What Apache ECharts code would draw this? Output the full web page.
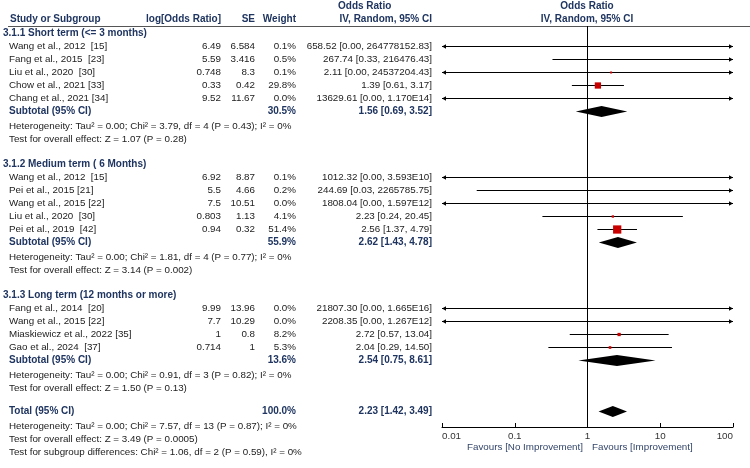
<!DOCTYPE html>
<html>
<head>
<meta charset="utf-8">
<style>
  html, body { margin: 0; padding: 0; background: #fff; }
  #forest { width: 750px; height: 468px; }
</style>
<script src="https://cdn.jsdelivr.net/npm/echarts@6/dist/echarts.min.js"></script>
</head>
<body>
<div id="forest"></div>
<script>
var FONT = 'Arial, "Liberation Sans", sans-serif';
var NAVY = '#1f3560';
var INK = '#222';
var X_MIN = 0.01, X_MAX = 100;

// subgroups
var groupTitles = ['3.1.1 Short term (<= 3 months)', '3.1.2 Medium term ( 6 Months)', '3.1.3 Long term (12 months or more)'];
var groupStartRow = [0, 10, 20];

// studies
var studyNames = [
    'Wang et al., 2012  [15]', 'Fang et al., 2015  [23]', 'Liu et al., 2020  [30]', 'Chow et al., 2021 [33]', 'Chang et al., 2021 [34]',
    'Wang et al., 2012  [15]', 'Pei et al., 2015 [21]', 'Wang et al., 2015 [22]', 'Liu et al., 2020  [30]', 'Pei et al., 2019  [42]',
    'Fang et al., 2014  [20]', 'Wang et al., 2015 [22]', 'Miaskiewicz et al., 2022 [35]', 'Gao et al., 2024  [37]'
];
var studyGroup = [0, 0, 0, 0, 0, 1, 1, 1, 1, 1, 2, 2, 2, 2];
var logOr = [6.49, 5.59, 0.748, 0.33, 9.52, 6.92, 5.5, 7.5, 0.803, 0.94, 9.99, 7.7, 1, 0.714];
var seVals = [6.584, 3.416, 8.3, 0.42, 11.67, 8.87, 4.66, 10.51, 1.13, 0.32, 13.96, 10.29, 0.8, 1];
var weightPct = [0.1, 0.5, 0.1, 29.8, 0.0, 0.1, 0.2, 0.0, 4.1, 51.4, 0.0, 0.0, 8.2, 5.3];
var oddsRatio = [658.52, 267.74, 2.11, 1.39, 13629.61, 1012.32, 244.69, 1808.04, 2.23, 2.56, 21807.30, 2208.35, 2.72, 2.04];
var ciLower = [0.00, 0.33, 0.00, 0.61, 0.00, 0.00, 0.03, 0.00, 0.24, 1.37, 0.00, 0.00, 0.57, 0.29];
var ciUpper = [264778152.83, 216476.43, 24537204.43, 3.17, 1.170e14, 3.593e10, 2265785.75, 1.597e12, 20.45, 4.79, 1.665e16, 1.267e12, 13.04, 14.50];
var ciUpperText = ['264778152.83', '216476.43', '24537204.43', '3.17', '1.170E14', '3.593E10', '2265785.75', '1.597E12', '20.45', '4.79', '1.665E16', '1.267E12', '13.04', '14.50'];

// subtotals
var subWeight = [30.5, 55.9, 13.6];
var subOr = [1.56, 2.62, 2.54];
var subLow = [0.69, 1.43, 0.75];
var subHigh = [3.52, 4.78, 8.61];
var hetText = [
    'Heterogeneity: Tau\u00b2 = 0.00; Chi\u00b2 = 3.79, df = 4 (P = 0.43); I\u00b2 = 0%',
    'Heterogeneity: Tau\u00b2 = 0.00; Chi\u00b2 = 1.81, df = 4 (P = 0.77); I\u00b2 = 0%',
    'Heterogeneity: Tau\u00b2 = 0.00; Chi\u00b2 = 0.91, df = 3 (P = 0.82); I\u00b2 = 0%'
];
var effectText = [
    'Test for overall effect: Z = 1.07 (P = 0.28)',
    'Test for overall effect: Z = 3.14 (P = 0.002)',
    'Test for overall effect: Z = 1.50 (P = 0.13)'
];

// overall
var totalWeight = 100.0;
var totalOr = 2.23, totalLow = 1.42, totalHigh = 3.49;
var totalNotes = [
    'Heterogeneity: Tau\u00b2 = 0.00; Chi\u00b2 = 7.57, df = 13 (P = 0.87); I\u00b2 = 0%',
    'Test for overall effect: Z = 3.49 (P = 0.0005)',
    'Test for subgroup differences: Chi\u00b2 = 1.06, df = 2 (P = 0.59), I\u00b2 = 0%'
];
var xTicks = [0.01, 0.1, 1, 10, 100];

// ---- rows ----
var studyRow = [];
var groupCount = [0, 0, 0];
studyGroup.forEach(function (g) {
    groupCount[g]++;
    studyRow.push(groupStartRow[g] + groupCount[g]);
});
var subRow = groupStartRow.map(function (s, g) { return s + groupCount[g] + 1; });
var totalRow = 28.9;

function fmt2(v) { return v.toFixed(2); }
function cell(text, x, align, bold, color) {
    return { text: text, x: x, align: align || 'left', bold: !!bold, color: color || INK };
}

var COL_NAME = 9, COL_LOG = 221, COL_SE = 255, COL_W = 296, COL_CI = 432;
var tableRows = [];
tableRows.push({ row: -2.06, cells: [cell('Odds Ratio', 338, 'left', true, NAVY), cell('Odds Ratio', 587, 'center', true, NAVY)] });
tableRows.push({ row: -1.07, cells: [
    cell('Study or Subgroup', 10, 'left', true, NAVY), cell('log[Odds Ratio]', COL_LOG, 'right', true, NAVY),
    cell('SE', COL_SE, 'right', true, NAVY), cell('Weight', COL_W, 'right', true, NAVY),
    cell('IV, Random, 95% CI', COL_CI, 'right', true, NAVY), cell('IV, Random, 95% CI', 587, 'center', true, NAVY)
] });
groupTitles.forEach(function (t, g) {
    tableRows.push({ row: groupStartRow[g], cells: [cell(t, 3, 'left', true, NAVY)] });
    tableRows.push({ row: subRow[g], cells: [
        cell('Subtotal (95% CI)', COL_NAME, 'left', true, NAVY),
        cell(subWeight[g].toFixed(1) + '%', COL_W, 'right', true, NAVY),
        cell(fmt2(subOr[g]) + ' [' + fmt2(subLow[g]) + ', ' + fmt2(subHigh[g]) + ']', COL_CI, 'right', true, NAVY)
    ] });
    tableRows.push({ row: subRow[g] + 1.1, cells: [cell(hetText[g], COL_NAME)] });
    tableRows.push({ row: subRow[g] + 2.1, cells: [cell(effectText[g], COL_NAME)] });
});
studyNames.forEach(function (n, i) {
    tableRows.push({ row: studyRow[i], cells: [
        cell(n, COL_NAME), cell(String(logOr[i]), COL_LOG, 'right'), cell(String(seVals[i]), COL_SE, 'right'),
        cell(weightPct[i].toFixed(1) + '%', COL_W, 'right'),
        cell(fmt2(oddsRatio[i]) + ' [' + fmt2(ciLower[i]) + ', ' + ciUpperText[i] + ']', COL_CI, 'right')
    ] });
});
tableRows.push({ row: totalRow, cells: [
    cell('Total (95% CI)', COL_NAME, 'left', true, NAVY),
    cell(totalWeight.toFixed(1) + '%', COL_W, 'right', true, NAVY),
    cell(fmt2(totalOr) + ' [' + fmt2(totalLow) + ', ' + fmt2(totalHigh) + ']', COL_CI, 'right', true, NAVY)
] });
totalNotes.forEach(function (t, k) {
    tableRows.push({ row: 30 + k, cells: [cell(t, COL_NAME)] });
});
tableRows.push({ row: 31.6, cells: [
    cell('Favours [No Improvement]', 583, 'right', false, '#34466a'),
    cell('Favours [Improvement]', 592, 'left', false, '#34466a')
] });

// ---- render helpers ----
function crisp(v) { return Math.round(v - 0.5) + 0.5; }

function arrowHead(x, y, dir) {
    return {
        type: 'polygon',
        shape: { points: [[x, y], [x - 4 * dir, y - 2.2], [x - 4 * dir, y + 2.2]] },
        style: { fill: '#000' }
    };
}

function renderTable(params, api) {
    var r = tableRows[params.dataIndex];
    var y = api.coord([1, r.row])[1];
    return {
        type: 'group',
        children: r.cells.map(function (c) {
            return {
                type: 'text', x: c.x, y: y,
                style: {
                    text: c.text, align: c.align, verticalAlign: 'middle',
                    fontSize: c.bold ? 10 : 9.8, fontFamily: FONT, fontWeight: c.bold ? 'bold' : 'normal', fill: c.color
                }
            };
        })
    };
}

function renderStudy(params, api) {
    var or = api.value(0), row = api.value(1), lo = api.value(2), hi = api.value(3), w = api.value(4);
    var y = crisp(api.coord([1, row])[1]);
    var left = api.coord([Math.max(lo, X_MIN), row])[0];
    var right = api.coord([Math.min(hi, X_MAX), row])[0];
    var kids = [{
        type: 'line', shape: { x1: left, y1: y, x2: right, y2: y },
        style: { stroke: '#000', lineWidth: 1 }
    }];
    if (lo < X_MIN) kids.push(arrowHead(left, y, -1));
    if (hi > X_MAX) kids.push(arrowHead(right, y, 1));
    if (or >= X_MIN && or <= X_MAX) {
        var s = Math.max(2, 1.15 * Math.sqrt(w));
        var c = api.coord([or, row]);
        kids.push({ type: 'rect', shape: { x: c[0] - s / 2, y: y - s / 2, width: s, height: s }, style: { fill: '#c80000' } });
    }
    return { type: 'group', children: kids };
}

function renderDiamond(params, api) {
    var or = api.value(0), row = api.value(1);
    var lo = api.coord([api.value(2), row]);
    var mid = api.coord([or, row]);
    var hi = api.coord([api.value(3), row]);
    var h = 5.5;
    return {
        type: 'polygon',
        shape: { points: [[lo[0], mid[1]], [mid[0], mid[1] - h], [hi[0], mid[1]], [mid[0], mid[1] + h]] },
        style: { fill: '#000' }
    };
}

var studyData = studyNames.map(function (n, i) {
    return [oddsRatio[i], studyRow[i], ciLower[i], ciUpper[i], weightPct[i]];
});
var diamondData = subOr.map(function (v, g) { return [v, subRow[g], subLow[g], subHigh[g]]; });
diamondData.push([totalOr, totalRow, totalLow, totalHigh]);
var tableData = tableRows.map(function (r) { return [1, r.row]; });

var chart = echarts.init(document.getElementById('forest'), null, { renderer: 'canvas' });
var option = {
    animation: false,
    backgroundColor: '#fff',
    grid: { left: 442, right: 17, top: 26, bottom: 41, outerBoundsMode: 'none' },
    xAxis: {
        type: 'log', logBase: 10, min: X_MIN, max: X_MAX, position: 'bottom',
        axisLine: { onZero: false, lineStyle: { color: '#000', width: 1 } },
        axisTick: { inside: true, length: 4, lineStyle: { color: '#000' } },
        splitLine: { show: false },
        axisLabel: {
            color: '#333', fontSize: 9.8, fontFamily: FONT, margin: 4,
            alignMinLabel: 'left', alignMaxLabel: 'right',
            formatter: function (v) {
                var best = xTicks[0];
                xTicks.forEach(function (t) { if (Math.abs(Math.log10(t) - Math.log10(v)) < Math.abs(Math.log10(best) - Math.log10(v))) best = t; });
                return String(best);
            }
        }
    },
    yAxis: { type: 'value', inverse: true, min: -0.534, max: 30.077, show: false },
    graphic: [{
        type: 'line', shape: { x1: 8, y1: 26.5, x2: 750, y2: 26.5 },
        style: { stroke: '#555', lineWidth: 1 }
    }],
    series: [{
        type: 'custom', name: 'studies', renderItem: renderStudy, data: studyData,
        encode: { x: 0, y: 1 }, silent: true,
        markLine: {
            silent: true, symbol: 'none', label: { show: false },
            lineStyle: { color: '#000', width: 1, type: 'solid' },
            data: [{ xAxis: 1 }]
        }
    }, {
        type: 'custom', name: 'pooled', renderItem: renderDiamond, data: diamondData,
        encode: { x: 0, y: 1 }, silent: true
    }, {
        type: 'custom', name: 'table', renderItem: renderTable, data: tableData,
        encode: { x: 0, y: 1 }, silent: true
    }]
};
chart.setOption(option);
</script>
</body>
</html>
